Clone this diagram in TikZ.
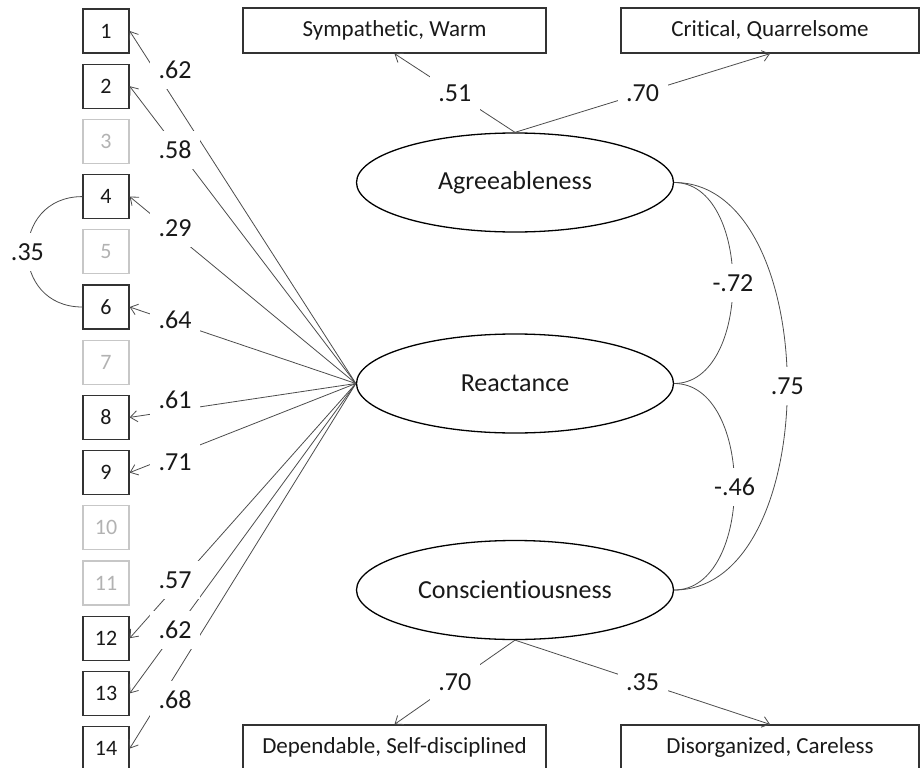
\documentclass[tikz,border=0pt]{standalone}
\usepackage{fontspec}
\setmainfont{Carlito}[Ligatures=NoCommon]
\usetikzlibrary{arrows.meta,shapes.geometric}
\begin{document}
\begin{tikzpicture}[x=1pt,y=-1pt,
 item/.style={draw=black!80, line width=1.3pt, minimum width=46pt, minimum height=44pt, inner sep=0pt, font=\fontsize{22}{22}\selectfont, text=black!90},
 gitem/.style={item, draw=black!22, text=black!30},
 lat/.style={ellipse, draw=black, line width=1.3pt, minimum width=317pt, minimum height=99pt, inner sep=0pt, font=\fontsize{26}{26}\selectfont, text=black!90},
 ind/.style={draw=black!80, line width=1.3pt, minimum width=303pt, minimum height=45pt, inner sep=0pt, font=\fontsize{23}{23}\selectfont, text=black!90},
 load/.style={draw=black!70, line width=0.8pt, -{Straight Barb[length=7pt,width=11pt]}},
 cor/.style={draw=black!70, line width=0.8pt},
 lbl/.style={fill=white, inner sep=0pt, minimum width=50pt, minimum height=38pt, font=\fontsize{26}{26}\selectfont, text=black!90},
]
\useasboundingbox (0,0) rectangle (921,768);

% latent variables
\node[lat] (A) at (515,182.5) {Agreeableness};
\node[lat] (R) at (515,383.5) {Reactance};
\node[lat] (C) at (515,590) {Conscientiousness};

% indicator boxes
\node[ind] (s1) at (394.5,30.5) {Sympathetic, Warm};
\node[ind, minimum width=298pt] (s2) at (770,30.5) {Critical, Quarrelsome};
\node[ind] (b1) at (394.5,747.5) {Dependable, Self-disciplined};
\node[ind, minimum width=298pt] (b2) at (770,747.5) {Disorganized, Careless};

% items
\node[item]  (i1)  at (106,31)    {1};
\node[item]  (i2)  at (106,86.2)  {2};
\node[gitem] (i3)  at (106,141.4) {3};
\node[item]  (i4)  at (106,196.6) {4};
\node[gitem] (i5)  at (106,251.8) {5};
\node[item]  (i6)  at (106,307)   {6};
\node[gitem] (i7)  at (106,362.2) {7};
\node[item]  (i8)  at (106,417.4) {8};
\node[item]  (i9)  at (106,472.6) {9};
\node[gitem] (i10) at (106,527.8) {10};
\node[gitem] (i11) at (106,583)   {11};
\node[item]  (i12) at (106,638.2) {12};
\node[item]  (i13) at (106,693.4) {13};
\node[item]  (i14) at (106,748.6) {14};

% loadings of reactance
\foreach \k in {1,2,4,6,8,9,12,13,14}
  \draw[load] (R.west) -- (i\k.east);

\node[lbl] (l1)  at (175,70)  {.62};
\node[lbl] (l2)  at (175,150) {.58};
\node[lbl] (l4)  at (175,228) {.29};
\node[lbl] (l6)  at (175,320) {.64};
\node[lbl] (l8)  at (175,400) {.61};
\node[lbl] (l9)  at (175,462) {.71};
\node[lbl] (l12) at (175,580) {.57};
\node[lbl] (l13) at (175,630) {.62};
\node[lbl] (l14) at (175,700) {.68};

% residual correlation
\draw[cor] (i4.west) to[out=180,in=180,looseness=1.7] node[lbl] (l46) {.35} (i6.west);

% other loadings
\draw[load] (A.north) -- node[lbl] (la1) {.51} (s1.south);
\draw[load] (A.north) -- node[lbl] (la2) {.70} (s2.south);
\draw[load] (C.south) -- node[lbl] (lc1) {.70} (b1.north);
\draw[load] (C.south) -- node[lbl] (lc2) {.35} (b2.north);

% factor correlations
\draw[cor] (A.east) to[out=0,in=0] node[lbl] (lar) {-.72} (R.east);
\draw[cor] (R.east) to[out=0,in=0] node[lbl] (lrc) {-.46} (C.east);
\draw[cor] (A.east) to[out=0,in=0,looseness=0.95] node[lbl] (lac) {.75} (C.east);
\end{tikzpicture}
\end{document}
